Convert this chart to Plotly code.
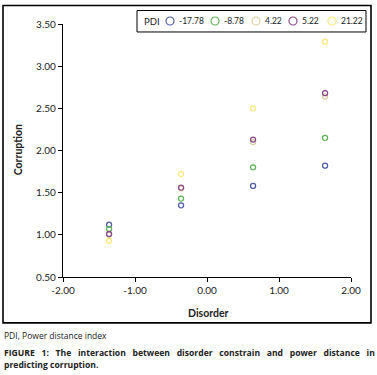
import plotly.graph_objects as go

disorder = [-1.36, -0.36, 0.64, 1.64]
pdi_labels = ["-17.78", "-8.78", "4.22", "5.22", "21.22"]
corruption = {
    "-17.78": [1.12, 1.35, 1.58, 1.82],
    "-8.78": [1.07, 1.43, 1.80, 2.15],
    "4.22": [1.00, 1.55, 2.10, 2.64],
    "5.22": [1.01, 1.56, 2.13, 2.68],
    "21.22": [0.93, 1.72, 2.50, 3.29],
}
colors = ["#4F5DA8", "#5DB552", "#D9D0A2", "#8A4A8C", "#F6EA7E"]
x_ticks = [-2, -1, 0, 1, 2]
x_ticklabels = ["-2.00", "-1.00", "0.00", "1.00", "2.00"]
y_ticks = [0.5, 1.0, 1.5, 2.0, 2.5, 3.0, 3.5]
y_ticklabels = ["0.50", "1.00", "1.50", "2.00", "2.50", "3.00", "3.50"]

FONT = "Lato, Open Sans, sans-serif"
TXT = "#222"

W, H = 377, 375
L, R, T, B = 63, 26, 23.5, 98
pw, ph = W - L - R, H - T - B

def px(x):
    return (x - L) / pw

def py(y):
    return (H - B - y) / ph

fig = go.Figure()
for lab, col in zip(pdi_labels, colors):
    fig.add_trace(go.Scatter(
        x=disorder, y=corruption[lab], mode="markers", name=lab, showlegend=False,
        marker=dict(symbol="circle-open", size=5, color=col, line=dict(width=1.3, color=col)),
    ))

shapes = [
    dict(type="rect", xref="paper", yref="paper",
         x0=px(3), x1=px(371), y0=py(323), y1=py(5),
         line=dict(color="black", width=1.6), fillcolor="rgba(0,0,0,0)", layer="above"),
    dict(type="rect", xref="paper", yref="paper",
         x0=px(137), x1=px(366), y0=py(31.5), y1=py(10),
         line=dict(color="black", width=1), fillcolor="white"),
]
annotations = [
    dict(text="PDI", xref="paper", yref="paper", x=px(142), y=py(20.5),
         xanchor="left", yanchor="middle", showarrow=False, font=dict(size=9.5, color=TXT)),
]
leg_circle_x = [170, 215, 256, 293, 332]
for lab, col, cx in zip(pdi_labels, colors, leg_circle_x):
    shapes.append(dict(type="circle", xref="paper", yref="paper",
                       x0=px(cx - 4), x1=px(cx + 4), y0=py(24.5), y1=py(16.5),
                       line=dict(color=col, width=1.2)))
    annotations.append(dict(text=lab, xref="paper", yref="paper", x=px(cx + 7), y=py(20.5),
                            xanchor="left", yanchor="middle", showarrow=False,
                            font=dict(size=8.5, color=TXT)))

caption1 = "FIGURE 1: The interaction between disorder constrain and power distance in"
caption1 = caption1.replace(" ", " &nbsp;&nbsp;")

annotations += [
    dict(text="<b>Disorder</b>", xref="paper", yref="paper", x=px(208), y=py(313),
         xanchor="center", yanchor="middle", showarrow=False, font=dict(size=10.5, color=TXT)),
    dict(text="<b>Corruption</b>", xref="paper", yref="paper", x=px(18), y=py(150),
         xanchor="center", yanchor="middle", showarrow=False, textangle=-90,
         font=dict(size=10.5, color=TXT)),
    dict(text="PDI, Power distance index", xref="paper", yref="paper",
         x=px(2), y=py(336), xanchor="left", yanchor="middle", showarrow=False,
         font=dict(size=8.5, color=TXT, family="Open Sans, sans-serif")),
    dict(text="<b>" + caption1 + "</b>",
         xref="paper", yref="paper", x=px(2), y=py(353), xanchor="left", yanchor="middle",
         showarrow=False, font=dict(size=8.6, color=TXT, family="Open Sans, sans-serif")),
    dict(text="<b>predicting corruption.</b>",
         xref="paper", yref="paper", x=px(2), y=py(365), xanchor="left", yanchor="middle",
         showarrow=False, font=dict(size=8.6, color=TXT, family="Open Sans, sans-serif")),
]

fig.update_layout(
    width=W, height=H,
    margin=dict(l=L, r=R, t=T, b=B, pad=0),
    paper_bgcolor="white", plot_bgcolor="white",
    font=dict(family=FONT, size=10, color=TXT),
    showlegend=False,
    xaxis=dict(
        range=[-2, 2], tickvals=x_ticks, ticktext=x_ticklabels, automargin=False,
        showgrid=False, zeroline=False, showline=True, linecolor="black", linewidth=1.3,
        ticks="outside", ticklen=4, tickcolor="black", tickfont=dict(size=10),
    ),
    yaxis=dict(
        range=[0.5, 3.5], tickvals=y_ticks, ticktext=y_ticklabels, automargin=False,
        showgrid=False, zeroline=False, showline=True, linecolor="black", linewidth=1.3,
        ticks="outside", ticklen=4, tickcolor="black", tickfont=dict(size=10),
    ),
    shapes=shapes,
    annotations=annotations,
)
fig.write_html("out.html", config={"displayModeBar": False},
               post_script="document.body.style.margin='0';document.body.style.overflow='hidden';")
